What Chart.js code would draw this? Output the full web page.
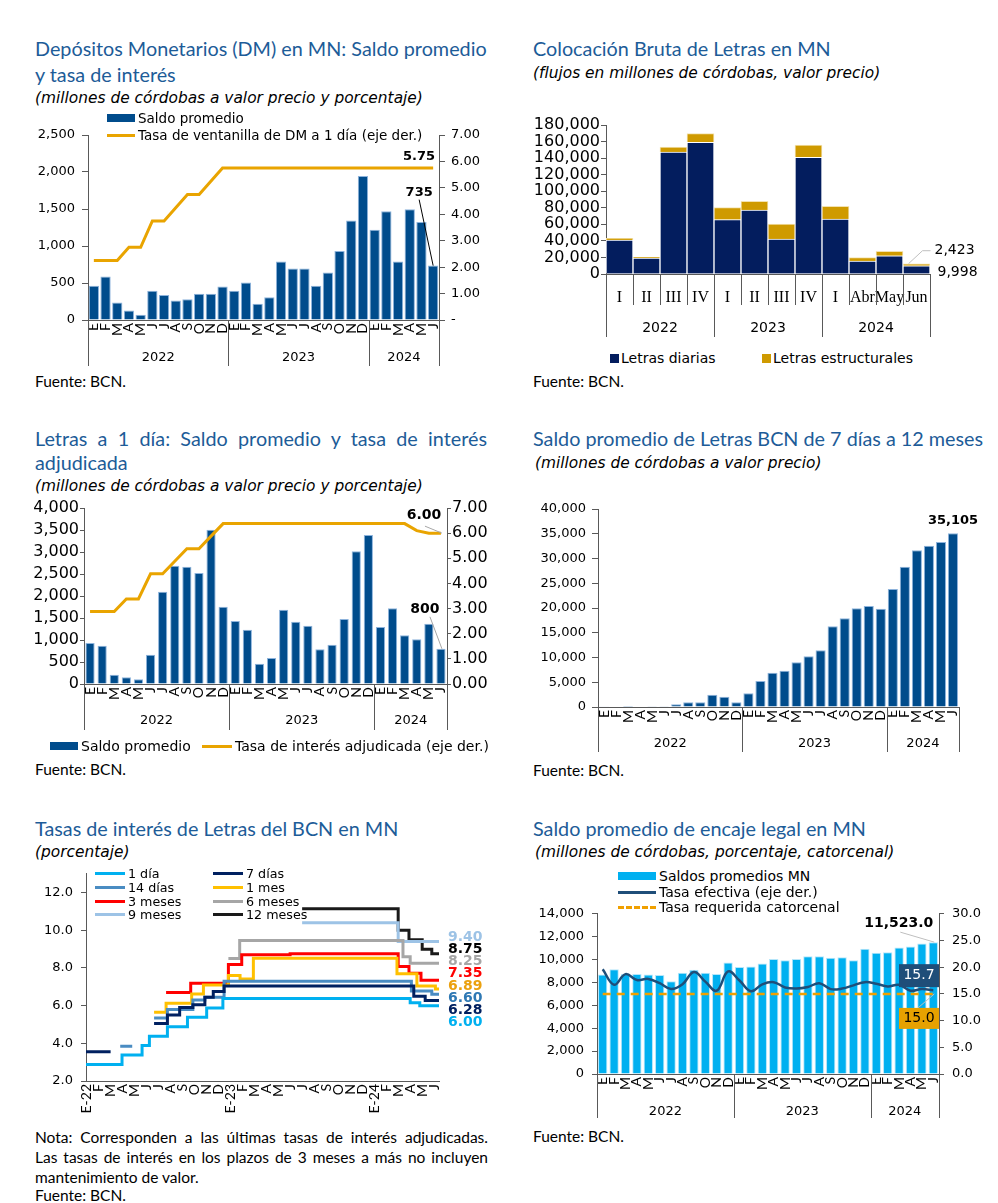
<!DOCTYPE html>
<html lang="es">
<head>
<meta charset="UTF-8">
<title>Depósitos y Letras del BCN</title>
<style>
  body { margin: 0; background: #fff; }
  #page { position: relative; width: 998px; height: 1203px; overflow: hidden; }
  #page div { position: absolute; white-space: nowrap; }
  #page canvas { position: absolute; }
  .t { font-family: Lato, sans-serif; font-size: 19.8px; color: #1D5C98; line-height: 24px; }
  .s { font-family: "DejaVu Sans", sans-serif; font-style: italic; font-size: 15.4px; color: #000; line-height: 20px; }
  .f { font-family: Lato, sans-serif; font-size: 15.5px; color: #000; line-height: 18px; }
  .j { white-space: normal !important; text-align: justify; text-align-last: justify; }
  .lg { font-family: "DejaVu Sans", sans-serif; color: #000; line-height: 16px; z-index: 2; }
  .sw { display: inline-block; vertical-align: middle; margin-right: 3px; position: relative; top: -1px; }
</style>
</head>
<body>
<div id="page">
  <div class="t" style="left:35px;top:36px">Depósitos Monetarios (DM) en MN: Saldo promedio</div>
  <div class="t" style="left:35px;top:62px">y tasa de interés</div>
  <div class="s" style="left:35px;top:88px">(millones de córdobas a valor precio y porcentaje)</div>
  <div class="f" style="left:35px;top:372px">Fuente: BCN.</div>

  <div class="t" style="left:533px;top:36px">Colocación Bruta de Letras en MN</div>
  <div class="s" style="left:533px;top:63px">(flujos en millones de córdobas, valor precio)</div>
  <div class="f" style="left:533px;top:372px">Fuente: BCN.</div>

  <div class="t j" style="left:35px;top:426px;width:452px">Letras a 1 día: Saldo promedio y tasa de interés</div>
  <div class="t" style="left:35px;top:450px">adjudicada</div>
  <div class="s" style="left:35px;top:476px">(millones de córdobas a valor precio y porcentaje)</div>
  <div class="f" style="left:35px;top:760px">Fuente: BCN.</div>

  <div class="t" style="left:533px;top:426px">Saldo promedio de Letras BCN de 7 días a 12 meses</div>
  <div class="s" style="left:535px;top:453px">(millones de córdobas a valor precio)</div>
  <div class="f" style="left:533px;top:761px">Fuente: BCN.</div>

  <div class="t" style="left:35px;top:816px">Tasas de interés de Letras del BCN en MN</div>
  <div class="s" style="left:35px;top:842px">(porcentaje)</div>
  <div class="f j" style="left:35px;top:1128px;width:453px">Nota: Corresponden a las últimas tasas de interés adjudicadas.</div>
  <div class="f j" style="left:35px;top:1148px;width:453px">Las tasas de interés en los plazos de 3 meses a más no incluyen</div>
  <div class="f" style="left:35px;top:1168px">mantenimiento de valor.</div>
  <div class="f" style="left:35px;top:1186px">Fuente: BCN.</div>

  <div class="t" style="left:533px;top:816px">Saldo promedio de encaje legal en MN</div>
  <div class="s" style="left:535px;top:842px">(millones de córdobas, porcentaje, catorcenal)</div>
  <div class="f" style="left:533px;top:1127px">Fuente: BCN.</div>
</div>

<script src="https://cdn.jsdelivr.net/npm/chart.js@4.4.1/dist/chart.umd.min.js"></script>
<script>
// ---------- datos ----------
const meses = ['E','F','M','A','M','J','J','A','S','O','N','D','E','F','M','A','M','J','J','A','S','O','N','D','E','F','M','A','M','J'];
const anios = ['2022', '2023', '2024'];
const mesesPorAnio = [12, 12, 6];

// Depósitos monetarios
const dmSaldo = [463, 589, 238, 130, 72, 396, 337, 265, 279, 355, 355, 454, 396, 508, 220, 306, 791, 697, 697, 463, 643, 931, 1344, 1947, 1218, 1470, 791, 1497, 1326, 735];
const dmTasa = [2.25, 2.25, 2.25, 2.75, 2.75, 3.75, 3.75, 4.25, 4.75, 4.75, 5.25, 5.75, 5.75, 5.75, 5.75, 5.75, 5.75, 5.75, 5.75, 5.75, 5.75, 5.75, 5.75, 5.75, 5.75, 5.75, 5.75, 5.75, 5.75, 5.75];

// Colocación bruta
const periodos = ['I','II','III','IV','I','II','III','IV','I','Abr','May','Jun'];
const periodosPorAnio = [4, 4, 4];
const letrasDiarias = [41100, 19300, 147400, 159100, 65600, 77300, 42300, 141000, 66400, 15700, 22100, 9998];
const letrasEstructurales = [2000, 800, 6000, 10400, 14500, 10500, 18100, 14800, 15300, 4000, 5300, 2423];

// Letras a 1 día
const l1Saldo = [932, 871, 212, 152, 106, 667, 2098, 2689, 2667, 2523, 3508, 1758, 1432, 1235, 462, 591, 1689, 1417, 1326, 788, 894, 1477, 3015, 3386, 1295, 1720, 1106, 1015, 1371, 800];
const l1Tasa = [2.88, 2.88, 2.88, 3.38, 3.38, 4.38, 4.38, 4.88, 5.38, 5.38, 5.88, 6.38, 6.38, 6.38, 6.38, 6.38, 6.38, 6.38, 6.38, 6.38, 6.38, 6.38, 6.38, 6.38, 6.38, 6.38, 6.38, 6.10, 6.00, 6.00];

// Letras de 7 días a 12 meses
const l7Saldo = [150, 100, 20, 100, 30, 30, 550, 950, 950, 2490, 2090, 950, 2760, 5250, 6940, 7340, 9020, 10240, 11450, 16300, 17910, 19930, 20400, 19870, 23840, 28350, 31650, 32600, 33330, 35105];

// Tasas de interés: [mes desde enero 2022, tasa]
const mesesTasas = ['E-22','F','M','A','M','J','J','A','S','O','N','D','E-23','F','M','A','M','J','J','A','S','O','N','D','E-24','F','M','A','M','J'];
const tasa1Dia = [[0, 2.88], [3.0, 3.38], [4.67, 3.88], [5.28, 4.38], [6.78, 4.88], [8.45, 5.38], [10.05, 5.88], [11.4, 6.38], [27.0, 6.15], [27.8, 6.00], [29.4, 6.00]];
const tasa7Dias = [[0, 3.55], [2.05, 3.55], [2.1, null], [5.67, 5.05], [6.78, 5.50], [7.8, 5.90], [8.9, 6.05], [9.9, 6.45], [10.6, 6.75], [11.5, 7.05], [27.3, 6.50], [28.25, 6.28], [29.4, 6.28]];
const tasa14Dias = [[2.85, 3.85], [3.85, 3.85], [3.9, null], [5.67, 5.35], [6.78, 5.80], [8.9, 6.30], [9.9, 6.45], [11.5, 7.30], [27.1, 6.78], [28.8, 6.60], [29.4, 6.60]];
const tasa1Mes = [[5.67, 5.65], [6.67, 6.13], [8.8, 6.62], [9.78, 7.10], [11.86, 7.60], [12.83, 7.42], [13.94, 8.52], [25.9, 7.70], [27.56, 7.05], [29.1, 6.89], [29.4, 6.89]];
const tasa3Meses = [[6.67, 6.70], [8.72, 7.19], [11.86, 8.18], [12.97, 8.70], [17.0, 8.75], [26.0, 8.08], [26.9, 7.72], [27.9, 7.35], [29.4, 7.35]];
const tasa6Meses = [[11.86, 8.50], [12.8, 9.46], [26.4, 8.60], [27.0, 8.25], [29.4, 8.25]];
const tasa9Meses = [[18.0, 10.40], [26.0, 9.40], [29.4, 9.40]];
const tasa12Meses = [[18.0, 11.15], [26.0, 10.00], [26.9, 9.50], [28.0, 9.00], [28.8, 8.75], [29.4, 8.75]];
const tasasYTicks = [2, 4, 6, 8, 10, 12];

// Encaje legal
const encajeSaldo = [8700, 9150, 8750, 8750, 8700, 8650, 8100, 8850, 9100, 8850, 8750, 9750, 9350, 9400, 9650, 10050, 9950, 10050, 10300, 10300, 10150, 10200, 9950, 10950, 10600, 10650, 11050, 11150, 11400, 11523];
const encajeTasaEfectiva = [19.6, 16.7, 18.7, 17.6, 17.8, 17.0, 15.9, 16.8, 19.1, 17.3, 15.6, 19.2, 17.5, 15.5, 16.8, 17.2, 16.2, 16.0, 16.3, 17.0, 15.9, 16.0, 16.6, 17.2, 16.9, 16.4, 16.7, 15.6, 15.9, 15.7];
const encajeTasaRequerida = [15.0, 15.0, 15.0, 15.0, 15.0, 15.0, 15.0, 15.0, 15.0, 15.0, 15.0, 15.0, 15.0, 15.0, 15.0, 15.0, 15.0, 15.0, 15.0, 15.0, 15.0, 15.0, 15.0, 15.0, 15.0, 15.0, 15.0, 15.0, 15.0, 15.0];

// ---------- estilos ----------
const AXIS = '#595959';
const AZUL = '#004C8C';
const ORO = '#E9A400';
const GRIS = '#A6A6A6';
const page = document.getElementById('page');

Chart.defaults.font.family = "'DejaVu Sans', sans-serif";
Chart.defaults.color = '#000';
Chart.defaults.animation = false;
Chart.defaults.plugins.legend.display = false;
Chart.defaults.plugins.tooltip.enabled = false;

function lienzo(x, y, w, h) {
  const c = document.createElement('canvas');
  c.width = w; c.height = h;
  c.style.left = x + 'px'; c.style.top = y + 'px';
  page.appendChild(c);
  return c;
}

function leyenda(x, y, swatch, texto, size) {
  const d = document.createElement('div');
  d.className = 'lg';
  d.style.left = x + 'px';
  d.style.top = (y - 8) + 'px';
  d.style.fontSize = size + 'px';
  d.innerHTML = swatch + texto;
  page.appendChild(d);
}
const swBarra = (c, w) => `<span class="sw" style="width:${w}px;height:8px;background:${c}"></span>`;
const swLinea = (c, w) => `<span class="sw" style="width:${w}px;height:0;border-top:3px solid ${c}"></span>`;
const swGuion = (c, w) => `<span class="sw" style="width:${w}px;height:0;border-top:3px dashed ${c}"></span>`;
const swCuadro = c => `<span class="sw" style="width:9px;height:9px;background:${c};margin-right:2px"></span>`;

function ejeY(pos, min, max, step, ancho, size, fmt, tl, pad, tickMax) {
  return {
    position: pos, min, max,
    afterFit: s => { s.width = ancho; },
    afterBuildTicks: s => {
      const t = [];
      for (let v = min; v <= (tickMax ?? max) + 1e-9; v += step) t.push({ value: v });
      s.ticks = t;
    },
    ticks: { font: { size }, padding: pad, callback: fmt, autoSkip: false },
    grid: { drawOnChartArea: false, tickLength: tl, color: AXIS },
    border: { color: AXIS }
  };
}

function ejeMeses(alto) {
  return {
    type: 'category', offset: true,
    afterFit: s => { s.height = alto; },
    grid: { display: false, drawTicks: false },
    border: { color: AXIS },
    ticks: { autoSkip: false, minRotation: 90, maxRotation: 90, padding: 3, font: { family: 'Lato', size: 14 } }
  };
}

const miles = v => v.toLocaleString('en-US');

// eje de años: separadores y etiquetas debajo de los meses
const ejeAnios = {
  id: 'ejeAnios',
  afterDraw(chart, args, o) {
    if (!o || !o.grupos) return;
    const x = chart.scales.x, ctx = chart.ctx, n = x.getLabels().length;
    const borde = i => i <= 0 ? x.left : i >= n ? x.right : (x.getPixelForValue(i - 1) + x.getPixelForValue(i)) / 2;
    const raya = (px, len) => {
      const xx = Math.round(px) + 0.5;
      ctx.beginPath(); ctx.moveTo(xx, x.top); ctx.lineTo(xx, x.top + len); ctx.stroke();
    };
    ctx.save();
    ctx.strokeStyle = AXIS; ctx.lineWidth = 1;
    if (o.corta) for (let i = 1; i < n; i++) raya(borde(i), o.corta);
    ctx.fillStyle = '#000'; ctx.font = o.font; ctx.textAlign = 'center'; ctx.textBaseline = 'middle';
    let ini = 0;
    raya(borde(0), o.larga);
    o.grupos.forEach((g, k) => {
      const fin = ini + o.tam[k];
      ctx.fillText(g, (borde(ini) + borde(fin)) / 2, x.top + o.texto);
      raya(borde(fin), o.larga);
      ini = fin;
    });
    ctx.restore();
  }
};

function notas(fn) {
  return { id: 'notas', afterDatasetsDraw(chart) { const ctx = chart.ctx; ctx.save(); fn(chart, ctx); ctx.restore(); } };
}
function texto(ctx, s, x, y, font, color, align) {
  ctx.font = font; ctx.fillStyle = color; ctx.textAlign = align || 'center'; ctx.textBaseline = 'middle';
  ctx.fillText(s, x, y);
}
function trazo(ctx, pts, color) {
  ctx.strokeStyle = color; ctx.lineWidth = 1; ctx.beginPath();
  pts.forEach((p, i) => i ? ctx.lineTo(p[0], p[1]) : ctx.moveTo(p[0], p[1]));
  ctx.stroke();
}

// ---------- 1. Depósitos monetarios ----------
new Chart(lienzo(30, 110, 460, 265), {
  data: {
    labels: meses,
    datasets: [
      { type: 'line', data: dmTasa, yAxisID: 'y1', borderColor: ORO, borderWidth: 3, pointRadius: 0, order: 0 },
      { type: 'bar', data: dmSaldo, yAxisID: 'y', backgroundColor: AZUL, borderColor: '#8DB3DC', borderWidth: 1,
        barPercentage: 0.88, categoryPercentage: 1, order: 1 }
    ]
  },
  options: {
    responsive: false,
    layout: { padding: { top: 25, right: 0, left: 0, bottom: 0 } },
    scales: {
      x: ejeMeses(55),
      y: ejeY('left', 0, 2500, 500, 58, 13, miles, 6, 7),
      y1: ejeY('right', 0, 7, 1, 51, 13, v => v === 0 ? '-' : v.toFixed(2), 6, 6)
    },
    plugins: { ejeAnios: { grupos: anios, tam: mesesPorAnio, larga: 46, texto: 38, font: '13px "DejaVu Sans"' } }
  },
  plugins: [ejeAnios, notas((chart, ctx) => {
    const i = dmSaldo.length - 1;
    const x = chart.scales.x.getPixelForValue(i);
    const yl = chart.scales.y1.getPixelForValue(dmTasa[i]);
    texto(ctx, dmTasa[i].toFixed(2), x + 2, yl - 11, 'bold 13px "DejaVu Sans"', '#000', 'right');
    const yb = chart.scales.y.getPixelForValue(dmSaldo[i]);
    trazo(ctx, [[x - 14, yb - 66], [x, yb]], '#000');
    texto(ctx, miles(dmSaldo[i]), x - 14, yb - 73, 'bold 13px "DejaVu Sans"', '#000');
  })]
});
leyenda(107, 118, swBarra(AZUL, 28), 'Saldo promedio', 13.5);
leyenda(107, 135, swLinea(ORO, 28), 'Tasa de ventanilla de DM a 1 día (eje der.)', 13.5);

// ---------- 2. Colocación bruta ----------
const NAVY = '#031D5E', DORADO = '#CF9A00';
new Chart(lienzo(530, 110, 460, 240), {
  type: 'bar',
  data: {
    labels: periodos,
    datasets: [
      { data: letrasDiarias, backgroundColor: NAVY, borderColor: '#fff', borderWidth: 1, barPercentage: 1, categoryPercentage: 1 },
      { data: letrasEstructurales, backgroundColor: DORADO, borderColor: '#F3E2B0', borderWidth: 1, barPercentage: 1, categoryPercentage: 1 }
    ]
  },
  options: {
    responsive: false,
    layout: { padding: { top: 15, right: 60, left: 0, bottom: 0 } },
    scales: {
      x: { stacked: true, offset: true,
        afterFit: s => { s.height = 76; },
        grid: { display: false, drawTicks: false }, border: { color: AXIS },
        ticks: { autoSkip: false, maxRotation: 0, minRotation: 0, padding: 14, font: { family: "'Liberation Serif', serif", size: 16 } } },
      y: Object.assign(ejeY('left', 0, 180000, 20000, 76, 16, miles, 5, 1), { stacked: true })
    },
    plugins: { ejeAnios: { grupos: anios, tam: periodosPorAnio, corta: 31, larga: 63, texto: 54, font: '14px "DejaVu Sans"' } }
  },
  plugins: [ejeAnios, notas((chart, ctx) => {
    const i = periodos.length - 1;
    const x = chart.scales.x.getPixelForValue(i);
    const y = chart.scales.y;
    const top = y.getPixelForValue(letrasDiarias[i] + letrasEstructurales[i]);
    trazo(ctx, [[x - 8, top], [x + 6, top - 13], [x + 14, top - 13]], '#BFBFBF');
    texto(ctx, miles(letrasEstructurales[i]), x + 18, top - 13, '14px "DejaVu Sans"', '#000', 'left');
    texto(ctx, miles(letrasDiarias[i]), x + 21, (y.getPixelForValue(0) + y.getPixelForValue(letrasDiarias[i])) / 2 + 2, '14px "DejaVu Sans"', '#000', 'left');
  })]
});
leyenda(610, 358, swCuadro(NAVY), 'Letras diarias', 14);
leyenda(762, 358, swCuadro(DORADO), 'Letras estructurales', 14);

// ---------- 3. Letras a 1 día ----------
new Chart(lienzo(30, 495, 460, 245), {
  data: {
    labels: meses,
    datasets: [
      { type: 'line', data: l1Tasa, yAxisID: 'y1', borderColor: ORO, borderWidth: 3, pointRadius: 0, order: 0 },
      { type: 'bar', data: l1Saldo, yAxisID: 'y', backgroundColor: AZUL, borderColor: '#8DB3DC', borderWidth: 1,
        barPercentage: 0.76, categoryPercentage: 1, order: 1 }
    ]
  },
  options: {
    responsive: false,
    layout: { padding: { top: 13, right: 0, left: 0, bottom: 0 } },
    scales: {
      x: ejeMeses(56),
      y: ejeY('left', 0, 4000, 500, 54, 16, miles, 4, 1),
      y1: ejeY('right', 0, 7, 1, 43, 16, v => v.toFixed(2), 4, 1)
    },
    plugins: { ejeAnios: { grupos: anios, tam: mesesPorAnio, larga: 46, texto: 37, font: '13px "DejaVu Sans"' } }
  },
  plugins: [ejeAnios, notas((chart, ctx) => {
    const i = l1Saldo.length - 1;
    const x = chart.scales.x.getPixelForValue(i);
    const yl = chart.scales.y1.getPixelForValue(l1Tasa[i]);
    trazo(ctx, [[x - 16, yl - 7], [x + 1, yl]], GRIS);
    texto(ctx, l1Tasa[i].toFixed(2), x - 17, yl - 18, 'bold 14px "DejaVu Sans"', '#000');
    const yb = chart.scales.y.getPixelForValue(l1Saldo[i]);
    trazo(ctx, [[x - 11, yb - 32], [x + 1, yb]], GRIS);
    texto(ctx, miles(l1Saldo[i]), x - 16, yb - 39, 'bold 14px "DejaVu Sans"', '#000');
  })]
});
leyenda(50, 746, swBarra(AZUL, 28), 'Saldo promedio', 14);
leyenda(202, 746, swLinea(ORO, 30), 'Tasa de interés adjudicada (eje der.)', 14);

// ---------- 4. Letras de 7 días a 12 meses ----------
new Chart(lienzo(530, 495, 460, 265), {
  type: 'bar',
  data: {
    labels: meses,
    datasets: [{ data: l7Saldo, backgroundColor: AZUL, borderColor: '#8DB3DC', borderWidth: 1, barPercentage: 0.84, categoryPercentage: 1 }]
  },
  options: {
    responsive: false,
    layout: { padding: { top: 14, right: 31, left: 0, bottom: 0 } },
    scales: {
      x: ejeMeses(53),
      y: ejeY('left', 0, 40000, 5000, 68, 13, miles, 6, 6)
    },
    plugins: { ejeAnios: { grupos: anios, tam: mesesPorAnio, larga: 45, texto: 37, font: '13px "DejaVu Sans"' } }
  },
  plugins: [ejeAnios, notas((chart, ctx) => {
    const i = l7Saldo.length - 1;
    const x = chart.scales.x.getPixelForValue(i);
    const yb = chart.scales.y.getPixelForValue(l7Saldo[i]);
    texto(ctx, miles(l7Saldo[i]), x, yb - 13, 'bold 13px "DejaVu Sans"', '#000');
  })]
});

// ---------- 5. Tasas de interés ----------
const plazos = ['1 día', '7 días', '14 días', '1 mes', '3 meses', '6 meses', '9 meses', '12 meses'];
const seriesTasas = [tasa1Dia, tasa7Dias, tasa14Dias, tasa1Mes, tasa3Meses, tasa6Meses, tasa9Meses, tasa12Meses];
const coloresTasas = ['#00B0F0', '#002060', '#4A8CC2', '#FFC000', '#FF0000', '#A6A6A6', '#9DC3E6', '#1A1A1A'];
const coloresEtiq = ['#00B0F0', '#002060', '#2E78B4', '#EBA10F', '#FF0000', '#A6A6A6', '#9DC3E6', '#000000'];
new Chart(lienzo(30, 858, 470, 264), {
  type: 'line',
  data: {
    datasets: seriesTasas.map((s, k) => ({
      data: s.map(p => ({ x: p[0], y: p[1] })),
      borderColor: coloresTasas[k], borderWidth: 3, pointRadius: 0, stepped: true, spanGaps: false
    }))
  },
  options: {
    responsive: false,
    layout: { padding: { top: 12.6, right: 61, left: 0, bottom: 0 } },
    scales: {
      x: { type: 'linear', min: 0, max: 29.4,
        afterFit: s => { s.height = 41; },
        afterBuildTicks: s => { s.ticks = mesesTasas.map((m, i) => ({ value: i })); },
        grid: { display: false, drawTicks: false }, border: { color: AXIS },
        ticks: { autoSkip: false, minRotation: 90, maxRotation: 90, padding: 3, font: { family: 'Lato', size: 14 },
          callback: v => mesesTasas[Math.round(v)] } },
      y: Object.assign(ejeY('left', 2, 13, 2, 56, 13, v => v.toFixed(1), 5, 8, 12), {
        afterBuildTicks: s => { s.ticks = tasasYTicks.map(v => ({ value: v })); } })
    }
  },
  plugins: [notas((chart, ctx) => {
    const y = chart.scales.y;
    const finales = seriesTasas.map((s, k) => ({ v: s[s.length - 1][1], c: coloresEtiq[k] })).sort((a, b) => b.v - a.v);
    const y0 = y.getPixelForValue(finales[0].v) - 4.4;
    finales.forEach((f, i) => texto(ctx, f.v.toFixed(2), chart.chartArea.right + 9, y0 + i * 12.2, 'bold 14px "DejaVu Sans"', f.c, 'left'));
  })]
});
plazos.forEach((p, k) => {
  const col = k % 2, fila = Math.floor(k / 2);
  leyenda(col ? 213 : 95, [874, 887.5, 901.5, 915][fila], swLinea(coloresTasas[k], 30), p, 12.7);
});

// ---------- 6. Encaje legal ----------
const CELESTE = '#00B0F0', AZUL_OSC = '#1F4E79', NARANJA = '#F0A000';
new Chart(lienzo(530, 898, 460, 230), {
  data: {
    labels: meses,
    datasets: [
      { type: 'line', data: encajeTasaEfectiva, yAxisID: 'y1', borderColor: AZUL_OSC, borderWidth: 2.5, pointRadius: 0, tension: 0.4, order: 0 },
      { type: 'line', data: encajeTasaRequerida, yAxisID: 'y1', borderColor: NARANJA, borderWidth: 2.5, borderDash: [8, 6], pointRadius: 0, order: 1 },
      { type: 'bar', data: encajeSaldo, yAxisID: 'y', backgroundColor: CELESTE, borderColor: '#B5E6FA', borderWidth: 1,
        barPercentage: 0.82, categoryPercentage: 1, order: 2 }
    ]
  },
  options: {
    responsive: false,
    layout: { padding: { top: 12.7, right: 0, left: 0, bottom: 0 } },
    scales: {
      x: ejeMeses(54),
      y: ejeY('left', 0, 14000, 2000, 67, 13, miles, 5, 8),
      y1: ejeY('right', 0, 30, 5, 51, 13, v => v.toFixed(1), 5, 8)
    },
    plugins: { ejeAnios: { grupos: anios, tam: mesesPorAnio, larga: 44, texto: 38, font: '13px "DejaVu Sans"' } }
  },
  plugins: [ejeAnios, notas((chart, ctx) => {
    const i = encajeSaldo.length - 1;
    const x = chart.scales.x.getPixelForValue(i);
    const right = chart.chartArea.right;
    const yb = chart.scales.y.getPixelForValue(encajeSaldo[i]);
    trazo(ctx, [[x - 33, yb - 10], [x + 1, yb]], '#BFBFBF');
    texto(ctx, encajeSaldo[i].toLocaleString('en-US', { minimumFractionDigits: 1 }), x, yb - 19, 'bold 14px "DejaVu Sans"', '#000', 'right');
    const ye = chart.scales.y1.getPixelForValue(encajeTasaEfectiva[i]);
    ctx.fillStyle = AZUL_OSC; ctx.fillRect(right - 40, ye - 26, 40, 23);
    texto(ctx, encajeTasaEfectiva[i].toFixed(1), right - 20, ye - 14.5, '14px "DejaVu Sans"', '#fff');
    const yr = chart.scales.y1.getPixelForValue(encajeTasaRequerida[i]);
    trazo(ctx, [[right - 21, yr + 14], [x + 1, yr]], '#BFBFBF');
    ctx.fillStyle = '#E6A100'; ctx.fillRect(right - 40, yr + 14, 40, 21);
    texto(ctx, encajeTasaRequerida[i].toFixed(1), right - 20, yr + 24.5, '14px "DejaVu Sans"', '#000');
  })]
});
leyenda(618, 876, swBarra(CELESTE, 38), 'Saldos promedios MN', 14);
leyenda(618, 892, swLinea(AZUL_OSC, 38), 'Tasa efectiva (eje der.)', 14);
leyenda(618, 907, swGuion(NARANJA, 38), 'Tasa requerida catorcenal', 14);
</script>
</body>
</html>
